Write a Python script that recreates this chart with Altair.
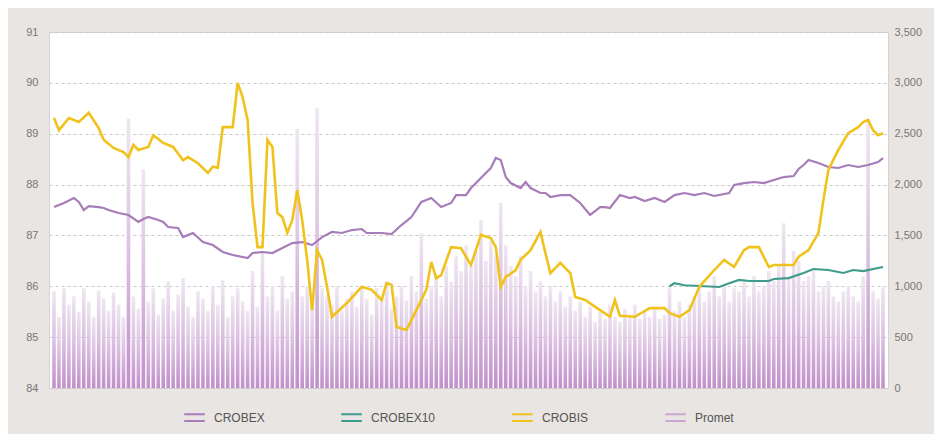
import altair as alt
import pandas as pd

# ---------------- data ----------------
days = list(range(168))
promet = [
    950, 700, 980, 820, 900, 750, 980, 850, 700, 960,
    880, 760, 940, 820, 700, 2650, 900, 780, 2150, 850,
    980, 720, 880, 1050, 760, 920, 1080, 800, 700, 950,
    880, 760, 1000, 820, 1060, 700, 900, 980, 850, 760,
    1150, 800, 1350, 900, 1000, 760, 1100, 880, 950, 2550,
    900, 1000, 850, 2750, 980, 900, 820, 1000, 760, 880,
    950, 800, 1000, 880, 720, 980, 900, 1050, 780, 900,
    1000, 860, 1100, 950, 1520, 880, 1000, 1100, 900, 1200,
    1050, 1300, 1150, 1400, 1200, 1350, 1650, 1250, 1450, 1300,
    1820, 1400, 1200, 1100, 1300, 1000, 1150, 950, 1050, 900,
    1000, 850, 950, 800, 900, 760, 850, 700, 800, 650,
    750, 680, 820, 700, 650, 780, 700, 820, 680, 750,
    700, 800, 680, 720, 990, 760, 850, 700, 820, 900,
    1000, 850, 950, 1100, 900, 1000, 850, 980, 950, 1050,
    900, 1100, 950, 1000, 1150, 1050, 1200, 1620, 1100, 1350,
    1250, 1050, 1100, 1150, 950, 1000, 1050, 900, 850, 950,
    1000, 900, 850, 1100, 2620, 950, 880, 1000,
]

crobis_day = [0, 1, 3, 5, 7, 9, 10, 12, 14, 15, 16, 17, 19, 20, 22, 24, 26, 27, 29, 31,
              32, 33, 34, 36, 37, 38, 39, 40, 41, 42, 43, 44, 45, 46, 47, 48, 49, 50, 51, 52,
              53, 54, 55, 56, 59, 62, 64, 66, 67, 68, 69, 71, 73, 75, 76, 77, 78, 80, 82, 83,
              84, 86, 88, 89, 90, 91, 93, 94, 96, 98, 99, 100, 102, 104, 105, 107, 110, 112, 113, 114,
              117, 120, 123, 124, 126, 128, 130, 133, 135, 137, 139, 140, 142, 144, 145, 149, 150, 152, 154, 155,
              156, 158, 160, 162, 163, 164, 165, 166, 167]
crobis_val = [89.31, 89.07, 89.31, 89.23, 89.41, 89.11, 88.88, 88.72, 88.64, 88.54, 88.78, 88.68, 88.74, 88.97, 88.82, 88.74, 88.48, 88.54, 88.42, 88.23,
              88.35, 88.33, 89.13, 89.13, 90.00, 89.72, 89.27, 87.64, 86.77, 86.77, 88.88, 88.74, 87.44, 87.36, 87.05, 87.30, 87.89, 87.30, 86.52, 85.53,
              86.71, 86.52, 85.99, 85.40, 85.67, 85.99, 85.93, 85.73, 86.06, 86.03, 85.20, 85.14, 85.53, 85.93, 86.48, 86.16, 86.22, 86.77, 86.75, 86.58,
              86.42, 87.01, 86.95, 86.77, 85.99, 86.18, 86.32, 86.52, 86.71, 87.07, 86.65, 86.26, 86.46, 86.26, 85.79, 85.73, 85.53, 85.40, 85.73, 85.42,
              85.40, 85.57, 85.57, 85.47, 85.40, 85.53, 85.99, 86.32, 86.52, 86.38, 86.71, 86.77, 86.77, 86.38, 86.42, 86.42, 86.58, 86.71, 87.05, 87.70,
              88.29, 88.68, 89.01, 89.13, 89.23, 89.27, 89.07, 88.97, 89.01]

crobex_day = [0, 2, 4, 5, 6, 7, 9, 10, 11, 13, 14, 15, 17, 18, 19, 21, 22, 23, 25, 26,
              28, 30, 32, 34, 36, 39, 40, 42, 44, 46, 48, 50, 52, 54, 56, 58, 60, 62, 63, 66,
              68, 70, 72, 74, 75, 76, 78, 80, 81, 83, 84, 85, 87, 88, 89, 90, 91, 92, 94, 95,
              96, 98, 99, 100, 102, 104, 106, 108, 109, 110, 111, 112, 114, 116, 117, 119, 121, 123, 125, 127,
              129, 131, 133, 136, 137, 139, 141, 143, 145, 147, 149, 150, 151, 152, 154, 156, 158, 160, 162, 164,
              166, 167]
crobex_val = [1779, 1819, 1868, 1829, 1750, 1789, 1779, 1770, 1750, 1720, 1711, 1701, 1632, 1661, 1681, 1652, 1632, 1583, 1573, 1484,
              1524, 1435, 1406, 1337, 1308, 1278, 1327, 1337, 1327, 1376, 1425, 1435, 1406, 1484, 1534, 1524, 1553, 1563, 1524, 1524,
              1514, 1602, 1681, 1829, 1848, 1868, 1779, 1819, 1897, 1897, 1966, 2015, 2114, 2163, 2261, 2241, 2074, 2015, 1966, 2025,
              1966, 1917, 1917, 1878, 1897, 1897, 1819, 1701, 1740, 1779, 1779, 1770, 1897, 1868, 1878, 1838, 1868, 1829, 1897, 1917,
              1897, 1917, 1888, 1917, 1996, 2015, 2025, 2015, 2045, 2074, 2084, 2153, 2192, 2241, 2212, 2173, 2163, 2192, 2173, 2192,
              2222, 2261]

crobex10_day = [124, 125, 127, 130, 134, 136, 138, 140, 144, 145, 148, 151, 153, 156, 159, 161, 163, 166, 167]
crobex10_val = [1000, 1030, 1010, 1003, 993, 1030, 1062, 1052, 1052, 1072, 1081, 1131, 1170, 1160, 1131, 1160, 1150, 1180, 1190]

series_names = ["CROBEX", "CROBEX10", "CROBIS", "Promet"]
series_colors = ["#a67cb9", "#3e9c8c", "#f1c21b", "#c9a6d3"]
left_ticks = [84, 85, 86, 87, 88, 89, 90, 91]
right_ticks = [0, 500, 1000, 1500, 2000, 2500, 3000, 3500]

# ---------------- tables ----------------
bars_df = pd.DataFrame({"day": days, "value": promet, "series": "Promet"})
right_lines = pd.concat([
    pd.DataFrame({"day": crobex_day, "value": crobex_val, "series": "CROBEX"}),
    pd.DataFrame({"day": crobex10_day, "value": crobex10_val, "series": "CROBEX10"}),
])
left_df = pd.DataFrame({"day": crobis_day, "value": crobis_val, "series": "CROBIS"})

x_enc = alt.X("day:Q", scale=alt.Scale(domain=[0, 167], nice=False, zero=False), axis=None)
color_enc = alt.Color(
    "series:N",
    scale=alt.Scale(domain=series_names, range=series_colors),
    legend=alt.Legend(
        title=None, orient="none", direction="horizontal",
        legendX=134, legendY=374,
        symbolType="M-1,-0.33H1M-1,0.33H1",
        symbolSize=420, symbolStrokeWidth=2, symbolFillColor="transparent",
        columnPadding=72, labelFontSize=12, labelColor="#555555",
        labelFont="Liberation Sans", labelOffset=8,
    ),
)

grad = alt.Gradient(
    gradient="linear",
    stops=[
        alt.GradientStop(offset=0, color="#c18fcb"),
        alt.GradientStop(offset=0.5, color="#dcc0e2"),
        alt.GradientStop(offset=1, color="#eee7f0"),
    ],
    x1=0, x2=0, y1=1, y2=0,
)

y_right = alt.Y(
    "value:Q",
    scale=alt.Scale(domain=[0, 3500], nice=False),
    axis=alt.Axis(orient="right", values=right_ticks, format=",.0f", title=None,
                  grid=False, domain=False, ticks=False, labelPadding=6,
                  labelColor="#777777", labelFontSize=11, labelFont="Liberation Sans"),
)

bars = alt.Chart(bars_df).mark_bar(color=grad, width=3.6, clip=True).encode(x=x_enc, y=y_right)
rlines = alt.Chart(right_lines).mark_line(strokeWidth=2.2, clip=True).encode(
    x=x_enc, y=y_right, color=color_enc, detail="series:N")

right_group = alt.layer(bars, rlines)

y_left = alt.Y(
    "value:Q",
    scale=alt.Scale(domain=[84, 91], nice=False, zero=False),
    axis=alt.Axis(orient="left", values=left_ticks, title=None,
                  grid=True, gridDash=[3, 3], gridColor="#c9c9c9", gridWidth=1,
                  domain=False, ticks=False, labelPadding=11,
                  labelColor="#777777", labelFontSize=11, labelFont="Liberation Sans"),
)
lline = alt.Chart(left_df).mark_line(strokeWidth=2.6, clip=True).encode(
    x=x_enc, y=y_left, color=color_enc)

chart = alt.layer(right_group, lline).resolve_scale(y="independent").properties(
    width=839, height=356,
    autosize=alt.AutoSizeParams(type="none"),
    padding={"left": 41, "top": 24, "right": 46, "bottom": 46},
    background="#e8e5e3",
).configure_view(fill="white", stroke="#d6d2d6", strokeWidth=1)

chart.save("out.html", embed_options={"renderer": "svg", "actions": False})
